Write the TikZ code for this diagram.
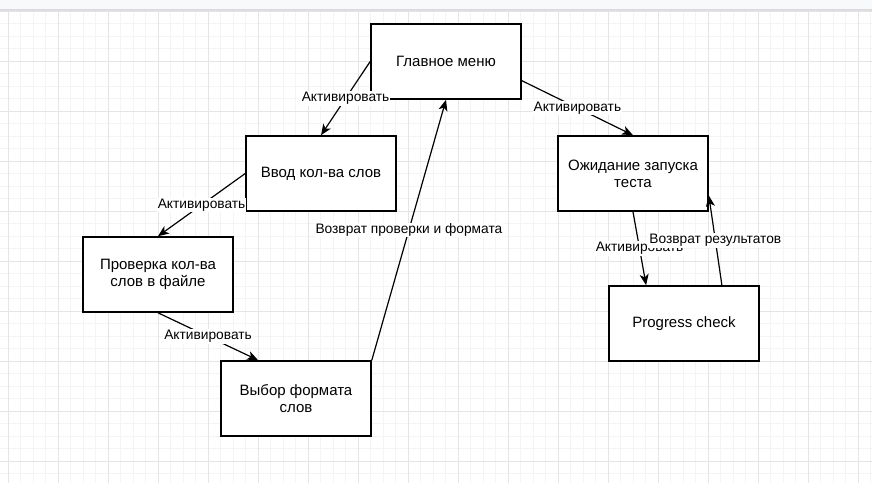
\documentclass[tikz,border=0pt]{standalone}
\usepackage{fontspec}
\setmainfont{Liberation Sans}
\usetikzlibrary{arrows.meta,calc}
\definecolor{gminor}{RGB}{244,244,244}
\definecolor{gmajor}{RGB}{229,229,229}
\definecolor{band}{RGB}{248,249,250}
\definecolor{bandline}{RGB}{218,220,224}
\tikzset{
  box/.style={draw=black, line width=1.6pt, fill=white, minimum width=150pt, minimum height=75pt, inner sep=2pt, align=center, font=\fontsize{15}{17.25}\selectfont},
  conn/.style={draw=black, line width=1.2pt, -{Stealth[length=11pt,width=9pt,inset=3pt]}},
  lbl/.style={fill=white, inner sep=1pt, font=\fontsize{13.75}{15}\selectfont}
}
\begin{document}
\begin{tikzpicture}[x=1pt,y=-1pt]
\useasboundingbox (0,0) rectangle (872,483);
\fill[white] (0,0) rectangle (872,483);
% grid
\foreach \i in {0,...,69} { \draw[gminor, line width=0.8pt] ({8.3+12.5*\i},10) -- ({8.3+12.5*\i},483); }
\foreach \i in {0,...,38} { \draw[gminor, line width=0.8pt] (0,{11.3+12.5*\i}) -- (872,{11.3+12.5*\i}); }
\foreach \i in {0,...,17} { \draw[gmajor, line width=0.9pt] ({8.3+50*\i},10) -- ({8.3+50*\i},483); }
\foreach \i in {0,...,9} { \draw[gmajor, line width=0.9pt] (0,{11.3+50*\i}) -- (872,{11.3+50*\i}); }
% top band
\fill[band] (0,0) rectangle (872,9.5);
\draw[bandline, line width=1.2pt] (0,10) -- (872,10);
% boxes
\node[box] (main) at (446,61.5) {Главное меню};
\node[box] (vvod) at (321,173.5) {Ввод кол-ва слов};
\node[box] (prov) at (158,274.5) {Проверка кол-ва\\слов в файле};
\node[box] (vyb) at (296,398.5) {Выбор формата\\слов};
\node[box] (ozh) at (633,173.5) {Ожидание запуска\\теста};
\node[box] (prog) at (684,323.5) {Progress check};
% anchor points
\coordinate (vybq) at ($(vyb.north west)!0.25!(vyb.north east)$);
\coordinate (mainr) at ($(main.north east)!0.75!(main.south east)$);
\coordinate (progq) at ($(prog.north west)!0.25!(prog.north east)$);
\coordinate (progt) at ($(prog.north west)!0.75!(prog.north east)$);
\coordinate (ozhr) at ($(ozh.north east)!0.787!(ozh.south east)$);
% connectors
\draw[conn] (main.west) -- node[lbl] {Активировать} (vvod.north);
\draw[conn] (vvod.west) -- node[lbl] {Активировать} (prov.north);
\draw[conn] (prov.south) -- node[lbl] {Активировать} (vybq);
\draw[conn] (vyb.north east) -- node[lbl] {Возврат проверки и формата} (main.south);
\draw[conn] (mainr) -- node[lbl] {Активировать} (ozh.north);
\draw[conn] (ozh.south) -- node[lbl] {Активировать} (progq);
\draw[conn] (progt) -- node[lbl] {Возврат результатов} (ozhr);
\end{tikzpicture}
\end{document}
